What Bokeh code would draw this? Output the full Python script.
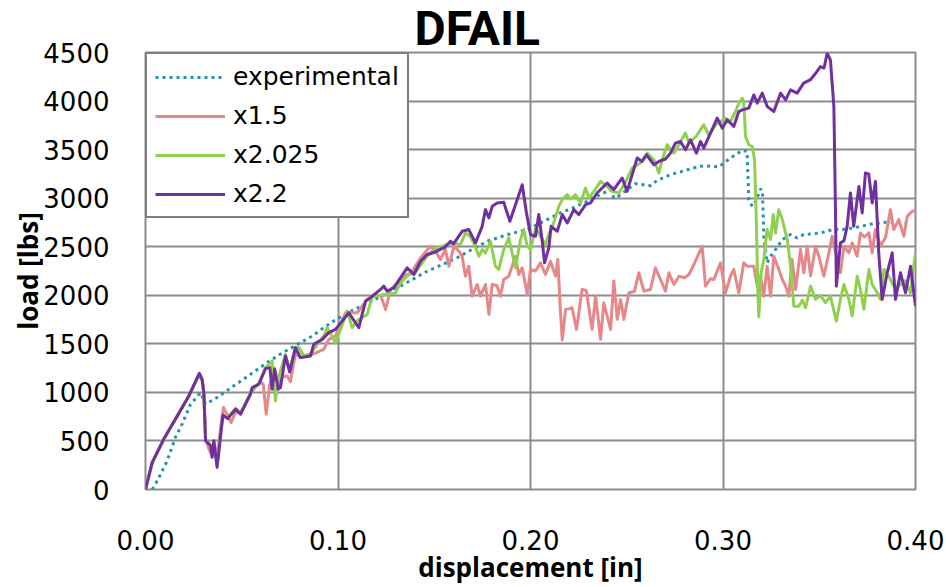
from bokeh.plotting import figure
from bokeh.models import (Legend, LegendItem, FixedTicker, NumeralTickFormatter, Range1d)
from bokeh.embed import file_html
from bokeh.resources import INLINE

# ---- load-displacement data [in], [lbs] ----
exp_x = [0.0035, 0.0061, 0.0113, 0.0156, 0.019, 0.0234, 0.0286, 0.0312, 0.0372, 0.0457,
         0.0561, 0.0632, 0.070, 0.0805, 0.0866, 0.0926, 0.0977, 0.109, 0.1117, 0.134,
         0.1463, 0.1532, 0.1619, 0.1688, 0.1775, 0.1879, 0.1983, 0.2078, 0.2156, 0.22,
         0.2286, 0.2364, 0.2416, 0.2433, 0.245, 0.2545, 0.2623, 0.2658, 0.2727, 0.2805,
         0.2866, 0.29, 0.2978, 0.3039, 0.31, 0.3125, 0.3134, 0.3152, 0.317, 0.3195,
         0.3205, 0.3212, 0.3229, 0.3247, 0.3273, 0.3308, 0.335, 0.3385, 0.3419, 0.3506,
         0.3576, 0.362, 0.368, 0.378, 0.385, 0.3948]
exp_y = [0, 90, 296, 539, 673, 878, 998, 878, 947, 1066,
         1207, 1307, 1393, 1512, 1580, 1666, 1734, 1862, 1880, 2111,
         2248, 2307, 2386, 2464, 2556, 2625, 2676, 2772, 2848, 2882,
         2960, 3040, 3087, 3002, 3010, 3149, 3128, 3183, 3242, 3286,
         3321, 3334, 3321, 3413, 3491, 3481, 2985, 2916, 2968, 3095,
         3080, 2600, 2334, 2402, 2471, 2574, 2625, 2590, 2625, 2642,
         2680, 2677, 2694, 2738, 2752, 2745]

x15_x = [0, 0.0035, 0.0095, 0.0165, 0.0225, 0.0277, 0.0294, 0.0303, 0.0312, 0.0329,
         0.0346, 0.0358, 0.0372, 0.039, 0.0405, 0.0427, 0.0445, 0.0468, 0.0494, 0.0545,
         0.0571, 0.0598, 0.0612, 0.0627, 0.0645, 0.067, 0.0688, 0.071, 0.0736, 0.0753,
         0.0779, 0.0805, 0.0866, 0.0926, 0.0952, 0.0987, 0.1039, 0.11, 0.1152, 0.1186,
         0.1221, 0.1247, 0.1273, 0.1342, 0.138, 0.1429, 0.148, 0.1506, 0.1532, 0.1558,
         0.1576, 0.1602, 0.1628, 0.1645, 0.1662, 0.1679, 0.1697, 0.1723, 0.174, 0.1766,
         0.1784, 0.1801, 0.1825, 0.1844, 0.1861, 0.1887, 0.1922, 0.1939, 0.1957, 0.1983,
         0.2, 0.2026, 0.2052, 0.2078, 0.2104, 0.213, 0.2142, 0.2156, 0.2165, 0.2182,
         0.2199, 0.2216, 0.2239, 0.2268, 0.229, 0.232, 0.2338, 0.2364, 0.2381, 0.2416,
         0.2433, 0.2451, 0.2468, 0.2485, 0.2511, 0.254, 0.2563, 0.2589, 0.2623, 0.2649,
         0.2675, 0.2701, 0.2719, 0.2745, 0.2771, 0.28, 0.2823, 0.2849, 0.2892, 0.2909,
         0.2935, 0.2953, 0.2987, 0.3013, 0.3039, 0.3056, 0.3082, 0.3108, 0.3126, 0.316,
         0.3178, 0.3195, 0.3212, 0.3229, 0.3247, 0.3264, 0.329, 0.3308, 0.3325, 0.3342,
         0.3359, 0.3377, 0.3403, 0.342, 0.3437, 0.3455, 0.3481, 0.3498, 0.3524, 0.355,
         0.3567, 0.3593, 0.361, 0.3628, 0.3654, 0.3671, 0.3697, 0.3714, 0.3735, 0.3758,
         0.3775, 0.3792, 0.3818, 0.3845, 0.387, 0.3887, 0.3913, 0.394, 0.3957, 0.3983,
         0.4]
x15_y = [0, 280, 520, 760, 965, 1180, 1125, 990, 520, 420,
         340, 470, 320, 640, 845, 760, 690, 800, 785, 985,
         1060, 1110, 1080, 776, 1080, 1250, 1060, 1160, 1169, 1110,
         1400, 1360, 1392, 1443, 1546, 1580, 1820, 1820, 1957, 1991,
         2000, 1855, 2060, 2197, 2230, 2386, 2505, 2454, 2368, 2471,
         2299, 2505, 2454, 2402, 2197, 2299, 1991, 2111, 1991, 2111,
         1803, 2111, 2100, 1991, 2163, 2197, 2402, 2214, 2283, 2009,
         2266, 2250, 2334, 2214, 2351, 2197, 2368, 1820, 1540, 1855,
         1860, 1872, 1649, 2060, 2050, 1649, 1991, 1546, 1923, 1649,
         2146, 1752, 1957, 1752, 2026, 2040, 2231, 2043, 2060, 2283,
         2163, 2043, 2231, 2111, 2197, 2180, 2214, 2317, 2505, 2094,
         2170, 2163, 2334, 2026, 2197, 2266, 2026, 2334, 2299, 2299,
         2094, 2197, 1991, 2299, 1991, 2402, 2266, 2163, 2094, 1991,
         2368, 2060, 2471, 2231, 2505, 2200, 2505, 2400, 2197, 2437,
         2608, 2368, 2231, 2505, 2437, 2540, 2402, 2642, 2600, 2642,
         2437, 2677, 2505, 2600, 2882, 2677, 2779, 2608, 2813, 2865,
         2870]

x2025_x = [0, 0.0035, 0.0095, 0.0165, 0.0225, 0.028, 0.0294, 0.0303, 0.0312, 0.0338,
           0.0346, 0.0355, 0.0372, 0.0402, 0.0427, 0.0468, 0.0494, 0.0545, 0.0589, 0.0623,
           0.0646, 0.0658, 0.0675, 0.069, 0.0727, 0.0749, 0.0779, 0.0797, 0.0823, 0.0857,
           0.0926, 0.0944, 0.0987, 0.1048, 0.1074, 0.11, 0.1152, 0.1178, 0.122, 0.1299,
           0.1325, 0.1368, 0.14, 0.1463, 0.1498, 0.1558, 0.1602, 0.1636, 0.1662, 0.1688,
           0.1705, 0.1732, 0.1749, 0.1766, 0.1792, 0.1818, 0.1835, 0.1861, 0.1887, 0.1922,
           0.1948, 0.1965, 0.1983, 0.2, 0.2026, 0.2052, 0.2078, 0.2095, 0.2121, 0.2147,
           0.2165, 0.2191, 0.2208, 0.2234, 0.226, 0.2286, 0.2303, 0.2329, 0.2364, 0.2398,
           0.2424, 0.2459, 0.249, 0.2528, 0.2571, 0.2606, 0.2641, 0.2667, 0.2684, 0.271,
           0.2745, 0.2771, 0.2805, 0.2823, 0.2862, 0.29, 0.2926, 0.2965, 0.3013, 0.3039,
           0.3065, 0.3082, 0.31, 0.3108, 0.3117, 0.3134, 0.3152, 0.3164, 0.3174, 0.3181,
           0.3186, 0.3198, 0.3212, 0.3229, 0.3247, 0.3261, 0.3273, 0.329, 0.3308, 0.3334,
           0.3351, 0.3368, 0.3394, 0.3412, 0.3429, 0.3455, 0.3481, 0.3506, 0.3532, 0.3558,
           0.3589, 0.361, 0.3628, 0.3654, 0.3671, 0.3697, 0.3714, 0.3732, 0.3758, 0.3775,
           0.3801, 0.3818, 0.3836, 0.386, 0.3887, 0.3913, 0.3945, 0.3974, 0.3991, 0.4]
x2025_y = [0, 275, 515, 755, 960, 1190, 1130, 990, 510, 460,
           345, 495, 260, 770, 740, 835, 790, 990, 1095, 1250,
           1300, 1323, 912, 1150, 1390, 1230, 1461, 1461, 1375, 1400,
           1580, 1666, 1512, 1837, 1666, 1740, 1803, 1991, 2000, 2026,
           2129, 2214, 2230, 2402, 2471, 2520, 2540, 2522, 2642, 2601,
           2540, 2402, 2471, 2437, 2556, 2299, 2266, 2471, 2591, 2283,
           2574, 2677, 2505, 2471, 2694, 2608, 2522, 2625, 2745, 2916,
           2985, 3036, 2990, 3036, 2951, 3104, 3002, 3070, 3173, 3121,
           3070, 3053, 3150, 3310, 3362, 3464, 3396, 3259, 3396, 3550,
           3464, 3550, 3670, 3567, 3640, 3755, 3652, 3760, 3824, 3790,
           3892, 3978, 4030, 3990, 3635, 3550, 3532, 3396, 2710, 2026,
           1780, 2231, 2368, 2677, 2574, 2831, 2642, 2882, 2779, 2574,
           2299, 1888, 1888, 1950, 1872, 2094, 1957, 2000, 1923, 1991,
           1734, 1957, 2111, 1957, 1786, 2197, 2060, 1855, 2266, 2111,
           2026, 1957, 2266, 2200, 2094, 2094, 2150, 2026, 2299, 2437]

x22_x = [0, 0.0035, 0.0095, 0.0165, 0.0225, 0.028, 0.0294, 0.0303, 0.0312, 0.0338,
         0.0346, 0.0355, 0.0372, 0.0402, 0.0427, 0.0468, 0.0494, 0.0545, 0.0554, 0.0589,
         0.0623, 0.0646, 0.0658, 0.0671, 0.069, 0.0701, 0.0727, 0.0749, 0.0779, 0.0805,
         0.0857, 0.0874, 0.0918, 0.0952, 0.0987, 0.1056, 0.1108, 0.1143, 0.1169, 0.1221,
         0.1238, 0.1255, 0.129, 0.1359, 0.1394, 0.1429, 0.1463, 0.1498, 0.1558, 0.1584,
         0.16, 0.1645, 0.1679, 0.1714, 0.1749, 0.1766, 0.1784, 0.1801, 0.1827, 0.1861,
         0.1893, 0.1922, 0.1957, 0.1979, 0.2, 0.2026, 0.2043, 0.2061, 0.2073, 0.2095,
         0.2107, 0.2139, 0.2165, 0.2191, 0.2225, 0.2251, 0.2286, 0.2312, 0.2346, 0.2398,
         0.2433, 0.2476, 0.2502, 0.2528, 0.2554, 0.258, 0.2603, 0.2641, 0.2667, 0.2701,
         0.2727, 0.2753, 0.2779, 0.2805, 0.2831, 0.2862, 0.2883, 0.29, 0.297, 0.2996,
         0.3022, 0.3056, 0.3082, 0.31, 0.3134, 0.316, 0.3178, 0.3204, 0.323, 0.3264,
         0.3299, 0.3325, 0.3351, 0.3385, 0.3419, 0.3455, 0.3481, 0.3506, 0.3525, 0.3541,
         0.3558, 0.3576, 0.3584, 0.3589, 0.361, 0.3628, 0.3645, 0.3662, 0.3679, 0.3706,
         0.3723, 0.374, 0.3757, 0.3775, 0.3792, 0.3809, 0.3827, 0.3853, 0.3879, 0.3896,
         0.3922, 0.3948, 0.3974, 0.4]
x22_y = [0, 279, 519, 758, 964, 1197, 1135, 999, 502, 450,
         331, 502, 228, 765, 731, 827, 776, 981, 1050, 1084,
         1245, 1255, 1033, 1238, 1033, 1050, 1375, 1210, 1461, 1358,
         1375, 1495, 1546, 1615, 1649, 1820, 1666, 1940, 1975, 2060,
         2094, 2043, 2077, 2283, 2214, 2351, 2420, 2440, 2499, 2556,
         2530, 2659, 2677, 2540, 2710, 2882, 2797, 2916, 2951, 2957,
         2762, 2933, 3139, 2848, 2625, 2608, 2831, 2556, 2334, 2488,
         2710, 2659, 2831, 2745, 2882, 2831, 2933, 2951, 3053, 3156,
         3087, 3208, 3070, 3242, 3413, 3378, 3447, 3344, 3378, 3403,
         3464, 3567, 3584, 3498, 3601, 3464, 3584, 3516, 3824, 3721,
         3807, 3738, 3892, 3909, 3927, 4063, 3978, 4081, 3943, 3892,
         4081, 4012, 4115, 4081, 4184, 4220, 4286, 4355, 4340, 4492,
         4423, 3943, 2916, 2094, 2540, 2560, 2710, 3053, 2710, 3121,
         2848, 3259, 3250, 2951, 3173, 2437, 1957, 2231, 2437, 1957,
         2231, 2026, 2299, 1888]

x_ticks = [0.0, 0.1, 0.2, 0.3, 0.4]
y_ticks = [0, 500, 1000, 1500, 2000, 2500, 3000, 3500, 4000, 4500]

GRID = "#8c8c8c"
TICK_FONT = "DejaVu Sans"
LABEL_FONT = "Open Sans"
TITLE_FONT = "Roboto"

p = figure(width=946, height=587, output_backend="svg", toolbar_location=None,
           x_range=Range1d(0, 0.4), y_range=Range1d(0, 4500),
           min_border_left=145, min_border_right=31,
           min_border_top=52, min_border_bottom=97)
p.background_fill_color = "white"
p.border_fill_color = "white"
p.outline_line_color = GRID
p.outline_line_width = 2

# chart title (negative standoff keeps the title band compact)
p.title.text = "DFAIL"
p.title.align = "left"
p.title.offset = 269
p.title.standoff = -9
p.title.vertical_align = "bottom"
p.title.text_font = TITLE_FONT
p.title.text_font_style = "bold"
p.title.text_font_size = "48px"
p.title.text_color = "black"

# axes
p.xaxis.ticker = FixedTicker(ticks=x_ticks)
p.yaxis.ticker = FixedTicker(ticks=y_ticks)
p.xaxis.formatter = NumeralTickFormatter(format="0.00")
p.yaxis.formatter = NumeralTickFormatter(format="0")
for ax in (p.xaxis[0], p.yaxis[0]):
    ax.axis_line_color = None
    ax.major_tick_line_color = None
    ax.minor_tick_line_color = None
    ax.major_label_text_font = TICK_FONT
    ax.major_label_text_font_size = "26px"
    ax.major_label_text_color = "black"
    ax.axis_label_text_font = LABEL_FONT
    ax.axis_label_text_font_style = "bold"
    ax.axis_label_text_font_size = "26px"
    ax.axis_label_text_color = "black"
p.xaxis.axis_label = "displacement [in]"
p.yaxis.axis_label = "load [lbs]"
p.xaxis.major_label_standoff = 34
p.xaxis.axis_label_standoff = -4
p.yaxis.major_label_standoff = 30
p.yaxis.axis_label_standoff = -6

p.xgrid.grid_line_color = GRID
p.xgrid.grid_line_width = 2
p.ygrid.grid_line_color = GRID
p.ygrid.grid_line_width = 2

# series
r_exp = p.line(exp_x, exp_y, line_color="#2494a8", line_width=3, line_dash="3 4")
r15 = p.line(x15_x, x15_y, line_color="#e6888a", line_width=3, line_join="round")
r2025 = p.line(x2025_x, x2025_y, line_color="#8fd14f", line_width=3, line_join="round")
r22 = p.line(x22_x, x22_y, line_color="#7030a0", line_width=3, line_join="round")

legend = Legend(items=[LegendItem(label="experimental", renderers=[r_exp]),
                       LegendItem(label="x1.5", renderers=[r15]),
                       LegendItem(label="x2.025", renderers=[r2025]),
                       LegendItem(label="x2.2", renderers=[r22])],
                location="top_left", margin=0, padding=8, spacing=10,
                glyph_width=70, label_standoff=8,
                label_text_font=TICK_FONT, label_text_font_size="25px",
                label_text_color="black",
                border_line_color="black", border_line_width=2,
                background_fill_color="white", background_fill_alpha=1.0)
p.add_layout(legend)

open("out.html", "w").write(file_html(p, INLINE))
